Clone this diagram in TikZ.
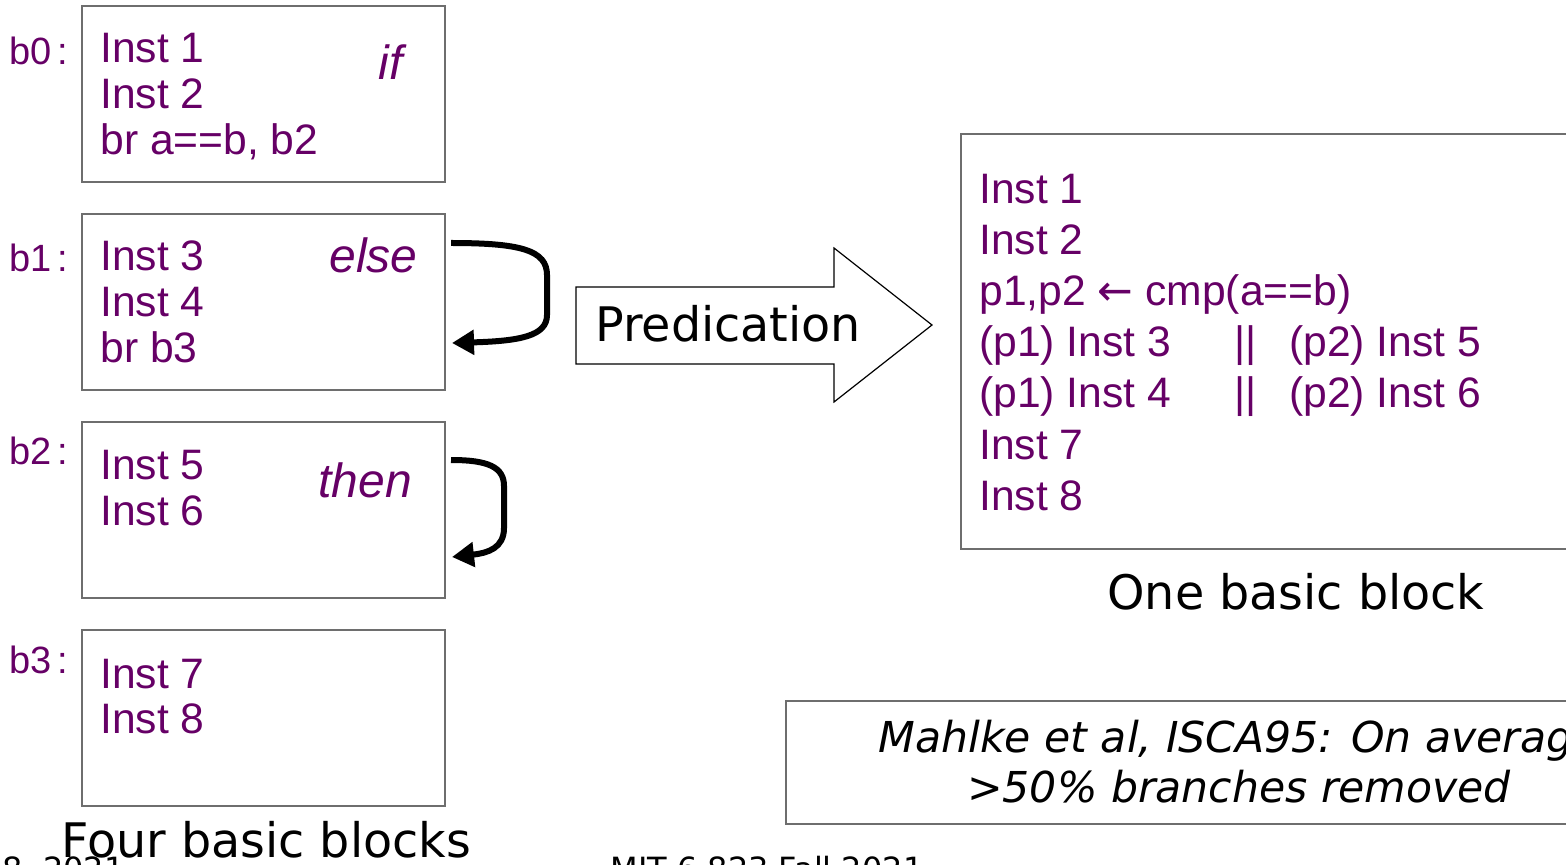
\documentclass[tikz,border=0pt]{standalone}
\usepackage{fontspec}
\setmainfont{Liberation Sans}
\newfontfamily\verd{DejaVu Sans}
\usetikzlibrary{arrows.meta,calc}
\definecolor{pur}{HTML}{660066}
\definecolor{bord}{HTML}{6E6E6E}
\begin{document}
\begin{tikzpicture}[x=0.5pt,y=-0.5pt,
  blk/.style={draw=bord, line width=1pt, inner sep=0pt, anchor=north west},
  inst/.style={font=\fontsize{21.3}{21.3}\selectfont, text=pur, anchor=base west, inner sep=0pt},
  lbl/.style={font=\fontsize{19}{19}\selectfont, text=pur, anchor=base west, inner sep=0pt},
  kw/.style={font=\fontsize{24}{24}\selectfont\itshape, text=pur, anchor=base west, inner sep=0pt},
  capt/.style={font=\verd\fontsize{23.8}{23.8}\selectfont, anchor=base west, inner sep=0pt},
  note/.style={font=\verd\fontsize{21.3}{21.3}\selectfont\itshape, anchor=base, inner sep=0pt},
  foot/.style={font=\verd\fontsize{16}{16}\selectfont, anchor=base west, inner sep=0pt},
  flow/.style={line width=3pt, -{Triangle[length=11pt,width=12pt]}},
]
\useasboundingbox (0,0) rectangle (1566,865);
\clip (0,0) rectangle (1566,865);

% four basic blocks
\node[blk, minimum width=181.5pt, minimum height=88pt] (b0) at (81,5) {};
\node[blk, minimum width=181.5pt, minimum height=88pt] (b1) at (81,213) {};
\node[blk, minimum width=181.5pt, minimum height=88pt] (b2) at (81,421) {};
\node[blk, minimum width=181.5pt, minimum height=88pt] (b3) at (81,629) {};

\node[lbl] (l0) at (9,65) {b0\,:};
\node[lbl] (l1) at (9,272) {b1\,:};
\node[lbl] (l2) at (9,464) {b2\,:};
\node[lbl] (l3) at (9,673) {b3\,:};

\node[inst] (i1) at (100,63) {Inst 1};
\node[inst] (i2) at (100,109) {Inst 2};
\node[inst] (i3) at (100,155) {br a==b, b2};
\node[kw] (kif) at (378,80) {if};

\node[inst] (i4) at (100,271) {Inst 3};
\node[inst] (i5) at (100,317) {Inst 4};
\node[inst] (i6) at (100,363) {br b3};
\node[kw] (kelse) at (329,273) {else};

\node[inst] (i7) at (100,479) {Inst 5};
\node[inst] (i8) at (100,525) {Inst 6};
\node[kw] (kthen) at (318,497) {then};

\node[inst] (i9) at (100,688) {Inst 7};
\node[inst] (i10) at (100,733) {Inst 8};

\node[capt] (four) at (61,857) {Four basic blocks};

% control-flow arrows
\coordinate (s1) at ($(b1.north east)+(5,30)$);
\coordinate (e1) at ($(b1.north east)+(6,130)$);
\draw[flow] (s1) .. controls (520,243) and (547,250) .. (547,275) -- (547,315)
  .. controls (547,336) and (520,341) .. (e1);
\coordinate (s2) at ($(b2.north east)+(5,39)$);
\coordinate (e2) at ($(b2.north east)+(6,136)$);
\draw[flow] (s2) .. controls (488,460) and (504,467) .. (504,486) -- (504,528)
  .. controls (504,548) and (488,553) .. (e2);

% Predication arrow
\draw[line width=0.6pt] (576,287) -- (834,287) -- (834,248) -- (932,325)
  -- (834,402) -- (834,364) -- (576,364) -- cycle;
\node[capt] (pred) at (595,342) {Predication};

% one basic block
\node[blk, minimum width=350pt, minimum height=207.5pt] (bb) at (960,133) {};
\node[inst] (r1) at (979,204) {Inst 1};
\node[inst] (r2) at (979,255) {Inst 2};
\node[inst] (r3) at (979,306) {p1,p2 {\verd ←} cmp(a==b)};
\node[inst] (r4) at (979,357) {(p1) Inst 3};
\node[inst] (r4b) at (1234,357) {||};
\node[inst] (r4c) at (1289,357) {(p2) Inst 5};
\node[inst] (r5) at (979,408) {(p1) Inst 4};
\node[inst] (r5b) at (1234,408) {||};
\node[inst] (r5c) at (1289,408) {(p2) Inst 6};
\node[inst] (r6) at (979,459) {Inst 7};
\node[inst] (r7) at (979,510) {Inst 8};
\node[capt] (one) at (1107,609) {One basic block};

% note
\node[blk, minimum width=400pt, minimum height=61.5pt] (nb) at (785,700) {};
\node[note] (n1) at (1239,752) {Mahlke et al, ISCA95: On average};
\node[note] (n2) at (1239,802) {>50\% branches removed};

% footer
\node[foot] (date) at (2,880) {8, 2021};
\node[foot] (mit) at (610,880) {MIT 6.823 Fall 2021};
\end{tikzpicture}
\end{document}
